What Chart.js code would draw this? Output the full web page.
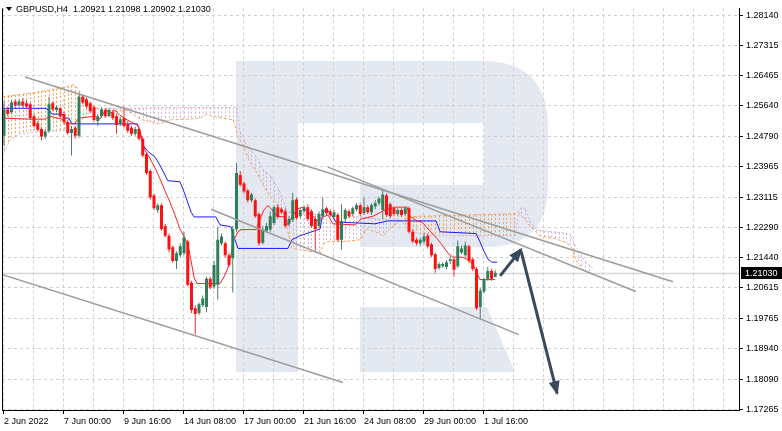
<!DOCTYPE html>
<html>
<head>
<meta charset="utf-8">
<script src="https://cdn.jsdelivr.net/npm/chart.js@4.4.1/dist/chart.umd.min.js"></script>
<style>
  html, body { margin: 0; padding: 0; background: #fff; }
</style>
</head>
<body>
<canvas id="myChart" width="782" height="431"></canvas>
<script>
const symbol = 'GBPUSD,H4';

// H4 candles, bar index 0 = 2 Jun 2022 00:00
const opens = [1.2481,1.2554,1.2546,1.2576,1.2565,1.2576,1.2571,1.2568,1.2535,1.2516,
  1.2500,1.2479,1.2495,1.2571,1.2552,1.2557,1.2541,1.2519,1.2489,1.2503,
  1.2481,1.2589,1.2581,1.2571,1.2560,1.2522,1.2535,1.2552,1.2535,1.2546,
  1.2535,1.2514,1.2530,1.2514,1.2503,1.2487,1.2500,1.2473,1.2430,1.2384,
  1.2316,1.2276,1.2289,1.2232,1.2205,1.2173,1.2135,1.2151,1.2157,1.2189,
  1.2075,1.2005,1.1992,1.2013,1.2008,1.2086,1.2065,1.2070,1.2184,1.2184,
  1.2151,1.2143,1.2224,1.2373,1.2349,1.2330,1.2303,1.2303,1.2265,1.2186,
  1.2219,1.2222,1.2240,1.2284,1.2278,1.2273,1.2238,1.2249,1.2305,1.2259,
  1.2273,1.2284,1.2273,1.2251,1.2232,1.2259,1.2281,1.2273,1.2257,1.2262,
  1.2194,1.2251,1.2273,1.2265,1.2278,1.2289,1.2268,1.2284,1.2270,1.2286,
  1.2295,1.2276,1.2316,1.2292,1.2281,1.2265,1.2276,1.2265,1.2281,1.2216,
  1.2194,1.2184,1.2189,1.2205,1.2181,1.2154,1.2116,1.2121,1.2119,1.2135,
  1.2140,1.2121,1.2159,1.2151,1.2176,1.2140,1.2113,1.2008,1.2051,1.2086,
  1.2108,1.20921];
const highs = [1.2576,1.2562,1.2579,1.2581,1.2581,1.2584,1.2579,1.2573,1.2541,1.2522,
  1.2506,1.2500,1.2589,1.2576,1.2565,1.2562,1.2546,1.2525,1.2508,1.2508,
  1.2600,1.2595,1.2587,1.2576,1.2565,1.2541,1.2560,1.2557,1.2557,1.2552,
  1.2543,1.2533,1.2562,1.2522,1.2508,1.2506,1.2506,1.2479,1.2435,1.2389,
  1.2322,1.2295,1.2295,1.2238,1.2211,1.2178,1.2162,1.2184,1.2216,1.2194,
  1.2081,1.2013,1.2021,1.2040,1.2092,1.2092,1.2135,1.2230,1.2211,1.2189,
  1.2157,1.2232,1.2406,1.2384,1.2354,1.2335,1.2324,1.2308,1.2270,1.2232,
  1.2240,1.2273,1.2289,1.2292,1.2284,1.2281,1.2259,1.2324,1.2311,1.2281,
  1.2289,1.2292,1.2278,1.2259,1.2273,1.2311,1.2286,1.2278,1.2276,1.2268,
  1.2292,1.2281,1.2278,1.2286,1.2295,1.2295,1.2311,1.2289,1.2295,1.2303,
  1.2313,1.2333,1.2322,1.2297,1.2286,1.2281,1.2281,1.2286,1.2286,1.2222,
  1.2200,1.2200,1.2211,1.2211,1.2186,1.2159,1.2132,1.2132,1.2138,1.2149,
  1.2146,1.2192,1.2178,1.2189,1.2181,1.2146,1.2119,1.2062,1.2089,1.2119,
  1.2113,1.21098];
const lows = [1.2454,1.2535,1.2541,1.2560,1.2562,1.2560,1.2557,1.2525,1.2503,1.2492,
  1.2468,1.2473,1.2489,1.2549,1.2546,1.2530,1.2514,1.2484,1.2427,1.2473,
  1.2476,1.2568,1.2557,1.2543,1.2519,1.2508,1.2530,1.2530,1.2533,1.2525,
  1.2487,1.2508,1.2503,1.2489,1.2481,1.2481,1.2468,1.2422,1.2373,1.2305,
  1.2276,1.2268,1.2219,1.2200,1.2159,1.2130,1.2113,1.2146,1.2151,1.2065,
  1.1992,1.1932,1.1986,1.2008,1.1994,1.2057,1.2059,1.2029,1.2178,1.2146,
  1.2119,1.2048,1.2216,1.2341,1.2322,1.2297,1.2297,1.2254,1.2178,1.2181,
  1.2213,1.2216,1.2235,1.2251,1.2265,1.2227,1.2230,1.2243,1.2249,1.2254,
  1.2268,1.2246,1.2227,1.2165,1.2227,1.2254,1.2262,1.2257,1.2251,1.2189,
  1.2167,1.2243,1.2254,1.2259,1.2273,1.2259,1.2262,1.2265,1.2262,1.2278,
  1.2289,1.2251,1.2257,1.2254,1.2259,1.2259,1.2257,1.2259,1.2211,1.2184,
  1.2178,1.2178,1.2184,1.2170,1.2146,1.2103,1.2111,1.2116,1.2113,1.2127,
  1.2092,1.2116,1.2154,1.2146,1.2130,1.2108,1.2000,1.1973,1.2046,1.2081,
  1.2081,1.20902];
const closes = [1.2554,1.2541,1.2573,1.2565,1.2576,1.2565,1.2562,1.2530,1.2508,1.2498,
  1.2479,1.2492,1.2568,1.2554,1.2560,1.2535,1.2519,1.2489,1.2500,1.2481,
  1.2589,1.2573,1.2562,1.2549,1.2525,1.2535,1.2554,1.2535,1.2552,1.2530,
  1.2511,1.2527,1.2508,1.2495,1.2487,1.2500,1.2473,1.2427,1.2378,1.2311,
  1.2281,1.2289,1.2224,1.2205,1.2167,1.2135,1.2157,1.2176,1.2200,1.2070,
  1.2000,1.1989,1.2016,1.2032,1.2086,1.2062,1.2124,1.2194,1.2203,1.2151,
  1.2124,1.2224,1.2378,1.2346,1.2327,1.2303,1.2319,1.2259,1.2184,1.2222,
  1.2232,1.2259,1.2284,1.2257,1.2270,1.2232,1.2251,1.2303,1.2254,1.2276,
  1.2284,1.2251,1.2232,1.2224,1.2265,1.2278,1.2268,1.2262,1.2270,1.2194,
  1.2246,1.2276,1.2259,1.2281,1.2289,1.2265,1.2284,1.2270,1.2289,1.2295,
  1.2308,1.2319,1.2262,1.2259,1.2265,1.2276,1.2262,1.2281,1.2216,1.2189,
  1.2184,1.2194,1.2203,1.2176,1.2151,1.2113,1.2127,1.2127,1.2132,1.2140,
  1.2111,1.2176,1.2170,1.2178,1.2135,1.2113,1.2005,1.2054,1.2084,1.2108,
  1.2086,1.21030];

// time axis labels, one every 16 bars
const timeLabels = ['2 Jun 2022','7 Jun 00:00','9 Jun 16:00','14 Jun 08:00','17 Jun 00:00',
  '21 Jun 16:00','24 Jun 08:00','29 Jun 00:00','1 Jul 16:00'];
const priceTicks = [1.17265,1.18090,1.18940,1.19765,1.20615,1.21440,1.22290,1.23115,
  1.23965,1.24790,1.25640,1.26465,1.27315,1.28140];

// ichimoku lines as [bar, price] vertices
const tenkan = [[-0.5,1.2530],[6.9,1.2527],[10.9,1.2527],[12.3,1.2535],[14.1,1.2530],[15.5,1.2527],
  [16.5,1.2516],[17.9,1.2514],[18.9,1.2516],[20.0,1.2530],[24.3,1.2535],[25.6,1.2527],[27.2,1.2554],
  [28.3,1.2543],[29.6,1.2552],[30.9,1.2538],[32.5,1.2527],[34.4,1.2516],[35.7,1.2511],[36.5,1.2481],
  [37.6,1.2441],[38.9,1.2419],[40.3,1.2392],[41.6,1.2362],[42.9,1.2330],[44.3,1.2297],[45.6,1.2262],
  [46.9,1.2224],[48.0,1.2203],[49.1,1.2178],[49.9,1.2135],[50.7,1.2089],[51.5,1.2073],[57.6,1.2073],
  [58.7,1.2092],[59.7,1.2116],[60.5,1.2151],[61.3,1.2194],[62.4,1.2216],[63.2,1.2222],[67.2,1.2222],
  [68.3,1.2251],[69.3,1.2276],[70.4,1.2289],[71.5,1.2276],[72.8,1.2259],[74.7,1.2257],[75.7,1.2235],
  [76.8,1.2257],[78.1,1.2278],[79.5,1.2284],[80.8,1.2273],[82.4,1.2259],[83.7,1.2246],[85.1,1.2257],
  [86.4,1.2262],[87.7,1.2238],[93.6,1.2235],[95.2,1.2251],[98.4,1.2259],[101.6,1.2276],[104.3,1.2284],
  [107.5,1.2284],[108.3,1.2259],[110.1,1.2246],[111.5,1.2243],[112.8,1.2227],[114.1,1.2213],
  [115.5,1.2197],[117.1,1.2176],[118.4,1.2157],[119.7,1.2146],[122.1,1.2146],[123.5,1.2140],
  [124.8,1.2130],[125.9,1.2108],[126.9,1.2084],[130.9,1.2084]];
const kijun = [[-0.5,1.2557],[10.9,1.2557],[12.0,1.2552],[12.8,1.2541],[15.5,1.2541],[16.3,1.2530],
  [17.3,1.2530],[18.1,1.2514],[35.5,1.2514],[36.3,1.2492],[37.1,1.2454],[38.4,1.2438],[40.3,1.2422],
  [41.6,1.2400],[42.9,1.2373],[43.7,1.2357],[46.9,1.2354],[47.7,1.2335],[48.8,1.2303],[49.9,1.2270],
  [50.7,1.2257],[56.5,1.2257],[57.6,1.2235],[60.5,1.2230],[61.3,1.2203],[62.4,1.2170],[75.7,1.2170],
  [76.8,1.2194],[78.9,1.2205],[82.1,1.2216],[84.3,1.2224],[85.1,1.2270],[86.1,1.2278],[87.2,1.2265],
  [88.5,1.2243],[98.9,1.2238],[102.4,1.2246],[115.2,1.2246],[116.3,1.2216],[125.9,1.2211],
  [126.9,1.2189],[128.0,1.2162],[129.1,1.2140],[130.1,1.2132],[131.5,1.2132]];
const spanA = [[-0.5,1.2589],[4.3,1.2595],[7.7,1.2600],[11.5,1.2606],[14.1,1.2611],[16.8,1.2617],
  [18.7,1.2622],[19.7,1.2611],[21.1,1.2589],[22.9,1.2568],[25.6,1.2552],[28.3,1.2546],[32.8,1.2552],
  [36.3,1.2527],[41.6,1.2514],[44.3,1.2525],[48.8,1.2527],[52.3,1.2530],[54.1,1.2541],[55.7,1.2535],
  [61.1,1.2525],[62.4,1.2481],[63.7,1.2454],[65.6,1.2408],[67.5,1.2378],[69.1,1.2346],[70.9,1.2313],
  [72.8,1.2292],[74.4,1.2273],[75.5,1.2224],[76.8,1.2170],[79.7,1.2165],[84.3,1.2157],[85.1,1.2181],
  [86.4,1.2189],[90.9,1.2189],[94.9,1.2194],[96.8,1.2224],[98.9,1.2216],[101.1,1.2205],[102.9,1.2224],
  [105.6,1.2246],[108.3,1.2257],[110.9,1.2259],[132.3,1.2265],[137.1,1.2267],[138.7,1.2254],
  [140.3,1.2232],[142.9,1.2205],[146.9,1.2197],[150.1,1.2186],[151.5,1.2170],[152.5,1.2138],
  [154.4,1.2111],[157.0,1.2097]];
const spanB = [[-0.5,1.2427],[0.3,1.2441],[1.6,1.2468],[4.3,1.2487],[9.6,1.2492],[14.9,1.2495],
  [18.9,1.2498],[21.6,1.2535],[24.3,1.2557],[62.1,1.2560],[62.9,1.2495],[64.8,1.2454],[67.5,1.2422],
  [69.1,1.2387],[70.9,1.2373],[72.8,1.2343],[74.1,1.2313],[75.5,1.2273],[78.9,1.2265],[86.9,1.2265],
  [90.9,1.2259],[94.9,1.2257],[100.3,1.2251],[105.6,1.2251],[108.3,1.2216],[113.6,1.2205],
  [136.3,1.2205],[137.3,1.2273],[138.1,1.2284],[139.2,1.2278],[140.3,1.2243],[142.1,1.2221],
  [150.9,1.2211],[152.0,1.2184],[154.9,1.2135],[157.0,1.2116]];

// hand drawn lines and arrows, [bar, price]
const trendA = [[5.6,1.26435],[178.4,1.20782]];
const trendB = [[86.4,1.23947],[168.5,1.20511]];
const trendC = [[55.2,1.22784],[137.3,1.19321]];
const trendD = [[-1.07,1.20998],[90.4,1.17995]];
const arrowUp = [[132.3,1.20944],[137.9,1.21675]];
const arrowDown = [[137.9,1.21620],[147.5,1.17698]];

const bullBody = '#2f7d5a', bullWick = '#557a66', bearBody = '#ff1010', bearWick = '#ff3030';
const last = closes.length - 1;
const toXY = arr => arr.map(p => ({x: p[0], y: p[1]}));

const watermark = {
  id: 'watermark',
  beforeDraw(chart) {
    const ctx = chart.ctx;
    ctx.save();
    ctx.fillStyle = '#e4e9f1';
    ctx.beginPath();
    ctx.moveTo(236, 61);
    ctx.lineTo(482, 61);
    ctx.quadraticCurveTo(548, 61, 548, 127);
    ctx.lineTo(548, 185);
    ctx.quadraticCurveTo(548, 247, 486, 247);
    ctx.lineTo(360, 247);
    ctx.lineTo(360, 185);
    ctx.lineTo(484, 185);
    ctx.lineTo(484, 123);
    ctx.lineTo(298, 123);
    ctx.lineTo(298, 372);
    ctx.lineTo(236, 372);
    ctx.closePath();
    ctx.moveTo(360, 307);
    ctx.lineTo(487, 307);
    ctx.lineTo(515, 372);
    ctx.lineTo(360, 372);
    ctx.closePath();
    ctx.fill();
    ctx.restore();
  }
};

// cloud hatch: dotted vertical line on every bar between span A and span B
const cloudHatch = {
  id: 'cloudHatch',
  beforeDatasetsDraw(chart) {
    const {ctx, chartArea} = chart;
    const xs = chart.scales.x;
    const byLabel = l => chart.data.datasets.findIndex(d => d.label === l);
    const lineA = chart.getDatasetMeta(byLabel('Senkou A')).dataset;
    const lineB = chart.getDatasetMeta(byLabel('Senkou B')).dataset;
    const end = spanA[spanA.length - 1][0];
    ctx.save();
    ctx.beginPath();
    ctx.rect(chartArea.left, chartArea.top, chartArea.right - chartArea.left, chartArea.bottom - chartArea.top);
    ctx.clip();
    ctx.lineWidth = 1;
    ctx.setLineDash([2, 2]);
    for (let i = Math.ceil(xs.min); i <= end; i++) {
      const px = Math.round(xs.getPixelForValue(i)) + 0.5;
      const pa = lineA.interpolate({x: px}, 'x');
      const pb = lineB.interpolate({x: px}, 'x');
      if (!pa || !pb) continue;
      ctx.strokeStyle = pa.y <= pb.y ? '#f4a055' : '#d2b2da';
      ctx.beginPath();
      ctx.moveTo(px, Math.min(pa.y, pb.y));
      ctx.lineTo(px, Math.max(pa.y, pb.y));
      ctx.stroke();
    }
    ctx.restore();
  }
};

const priceLine = {
  id: 'priceLine',
  beforeDatasetsDraw(chart) {
    const {ctx, chartArea} = chart;
    const y = Math.round(chart.scales.y.getPixelForValue(closes[last])) + 0.5;
    ctx.save();
    ctx.strokeStyle = '#d6d6d6';
    ctx.lineWidth = 1.5;
    ctx.beginPath();
    ctx.moveTo(chartArea.left, y);
    ctx.lineTo(chartArea.right, y);
    ctx.stroke();
    ctx.restore();
  }
};

const arrowHeads = {
  id: 'arrowHeads',
  afterDatasetsDraw(chart) {
    const ctx = chart.ctx;
    chart.data.datasets.forEach((ds, i) => {
      if (!ds.arrow) return;
      const pts = chart.getDatasetMeta(i).data;
      const a = pts[pts.length - 2], b = pts[pts.length - 1];
      const ang = Math.atan2(b.y - a.y, b.x - a.x);
      const len = 12, half = 5.5;
      const cx = b.x - len * Math.cos(ang), cy = b.y - len * Math.sin(ang);
      ctx.save();
      ctx.fillStyle = ds.borderColor;
      ctx.beginPath();
      ctx.moveTo(b.x + 2 * Math.cos(ang), b.y + 2 * Math.sin(ang));
      ctx.lineTo(cx + half * Math.sin(ang), cy - half * Math.cos(ang));
      ctx.lineTo(cx - half * Math.sin(ang), cy + half * Math.cos(ang));
      ctx.closePath();
      ctx.fill();
      ctx.restore();
    });
  }
};

const decorations = {
  id: 'decorations',
  afterDraw(chart) {
    const {ctx, chartArea} = chart;
    ctx.save();
    // left frame line
    ctx.strokeStyle = '#000';
    ctx.lineWidth = 1;
    ctx.beginPath();
    ctx.moveTo(chartArea.left + 0.5, chartArea.top);
    ctx.lineTo(chartArea.left + 0.5, chartArea.bottom);
    ctx.stroke();
    // header
    ctx.fillStyle = '#000';
    ctx.beginPath();
    ctx.moveTo(6, 7); ctx.lineTo(12, 7); ctx.lineTo(9, 11); ctx.closePath();
    ctx.fill();
    ctx.font = '9px "Liberation Sans", Arial, sans-serif';
    ctx.textBaseline = 'middle';
    const head = symbol + '  ' + [opens[last], highs[last], lows[last], closes[last]].map(v => v.toFixed(5)).join(' ');
    ctx.fillText(head, 16, 9.5);
    // last price box
    const y = Math.round(chart.scales.y.getPixelForValue(closes[last]));
    ctx.fillRect(chartArea.right + 2, y - 6, 41, 12);
    ctx.fillStyle = '#fff';
    ctx.fillText(closes[last].toFixed(5), chartArea.right + 6, y + 0.5);
    ctx.restore();
  }
};

const idx = opens.map((_, i) => i);
const isBull = i => closes[i] >= opens[i];

const datasets = [
  {type: 'line', label: 'arrowUp', data: toXY(arrowUp), borderColor: '#39495a', borderWidth: 3,
   pointRadius: 0, arrow: true, order: 1},
  {type: 'line', label: 'arrowDown', data: toXY(arrowDown), borderColor: '#39495a', borderWidth: 3,
   pointRadius: 0, arrow: true, order: 1},
  {type: 'line', label: 'trendA', data: toXY(trendA), borderColor: '#9c9c9c', borderWidth: 1.5, pointRadius: 0, order: 2},
  {type: 'line', label: 'trendB', data: toXY(trendB), borderColor: '#9c9c9c', borderWidth: 1.5, pointRadius: 0, order: 2},
  {type: 'line', label: 'trendC', data: toXY(trendC), borderColor: '#9c9c9c', borderWidth: 1.5, pointRadius: 0, order: 2},
  {type: 'line', label: 'trendD', data: toXY(trendD), borderColor: '#9c9c9c', borderWidth: 1.5, pointRadius: 0, order: 2},
  {type: 'bar', label: 'bodies', data: idx.map(i => ({x: i, y: [opens[i], closes[i]]})),
   backgroundColor: idx.map(i => isBull(i) ? bullBody : bearBody),
   barThickness: 3, minBarLength: 1, grouped: false, inflateAmount: 0, borderWidth: 0, order: 3},
  {type: 'bar', label: 'wicks', data: idx.map(i => ({x: i, y: [lows[i], highs[i]]})),
   backgroundColor: idx.map(i => isBull(i) ? bullWick : bearWick),
   barThickness: 1, grouped: false, inflateAmount: 0, borderWidth: 0, order: 4},
  {type: 'line', label: 'Tenkan', data: toXY(tenkan), borderColor: '#ff2020', borderWidth: 1, pointRadius: 0, order: 5},
  {type: 'line', label: 'Kijun', data: toXY(kijun), borderColor: '#1a1aff', borderWidth: 1, pointRadius: 0, order: 5},
  {type: 'line', label: 'Senkou A', data: toXY(spanA), borderColor: '#f4a460', borderWidth: 1,
   borderDash: [3, 2], pointRadius: 0, order: 6},
  {type: 'line', label: 'Senkou B', data: toXY(spanB), borderColor: '#cfb0d6', borderWidth: 1,
   borderDash: [2, 2], pointRadius: 0, order: 6}
];

Chart.defaults.font.family = '"Liberation Sans", Arial, sans-serif';
Chart.defaults.font.size = 9;
Chart.defaults.color = '#000';

const labelled = v => v % 16 === 0 && v / 16 < timeLabels.length;

new Chart(document.getElementById('myChart'), {
  type: 'bar',
  data: {datasets},
  plugins: [watermark, cloudHatch, priceLine, arrowHeads, decorations],
  options: {
    responsive: false,
    animation: false,
    events: [],
    layout: {padding: {left: 2, top: 0, right: 0, bottom: 0}, autoPadding: false},
    plugins: {legend: {display: false}, tooltip: {enabled: false}},
    scales: {
      x: {
        type: 'linear',
        min: -0.533,
        max: 196,
        offset: false,
        afterFit(s) { s.height = 21; },
        afterBuildTicks(s) {
          const t = [];
          for (let v = 0; v <= 192; v += 8) t.push({value: v});
          s.ticks = t;
        },
        grid: {
          offset: false,
          color: '#d0d0d0',
          tickLength: 4,
          tickColor: c => (c.tick && labelled(c.tick.value)) ? '#000' : 'rgba(0,0,0,0)',
          tickBorderDash: []
        },
        border: {display: true, color: '#000', width: 1, dash: [3, 3]},
        ticks: {
          autoSkip: false,
          maxRotation: 0,
          align: 'start',
          padding: 2,
          callback: v => labelled(v) ? timeLabels[v / 16] : ''
        }
      },
      y: {
        type: 'linear',
        position: 'right',
        min: 1.172379,
        max: 1.283293,
        beginAtZero: false,
        afterFit(s) { s.width = 43; },
        afterBuildTicks(s) { s.ticks = priceTicks.map(v => ({value: v})); },
        grid: {color: '#d0d0d0', tickLength: 4, tickColor: '#000', tickBorderDash: []},
        border: {display: true, color: '#000', width: 1, dash: [3, 3]},
        ticks: {autoSkip: false, padding: 3, callback: v => v.toFixed(5)}
      }
    }
  }
});
</script>
</body>
</html>
